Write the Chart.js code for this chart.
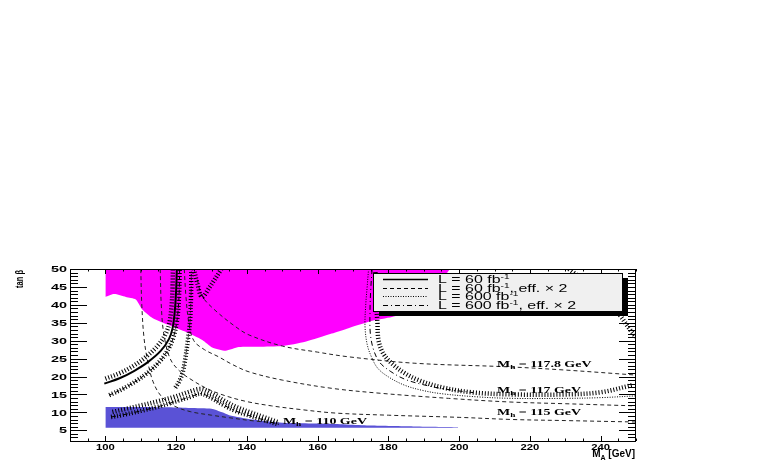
<!DOCTYPE html>
<html>
<head>
<meta charset="utf-8">
<script src="https://cdn.jsdelivr.net/npm/chart.js@4.4.0/dist/chart.umd.min.js"></script>
<style>
  html, body { margin: 0; padding: 0; background: #fff; }
  canvas { display: block; }
</style>
</head>
<body>
<canvas id="plot" width="763" height="463"></canvas>
<script>
// axis ranges and tick labels
const xRange = [90, 250];
const yRange = [2, 50];
const xTickLabels = [100, 120, 140, 160, 180, 200, 220, 240];
const yTickLabels = [5, 10, 15, 20, 25, 30, 35, 40, 45, 50];

// excluded regions (M_A, tan beta)
const magentaEdge = [[100,42.2],[102.5,43],[105.8,42.2],[108.6,41.5],[110.5,38.6],[113.3,36.3],[119,33.9],[122.7,32.5],[127.4,30.2],[130.2,28.1],[134,27.2],[137.7,28.2],[143.4,28.3],[150,28.5],[156.5,29.7],[164,32],[168.7,33.5],[175.2,35.5],[181,36.6],[186,38],[190,41],[194,45.5],[197.4,50]];
const blueTop = [[100,11.5],[110,11.5],[118,11.4],[124,11.2],[130,11],[133,10],[135,9.2],[141.5,8],[150,7.1],[163,6.8],[175,6.3],[187,6.05],[199.7,5.85]];
const blueBottom = 5.7;

// M_h iso-lines
const mh110 = [[110,50],[110.3,40],[110.9,31],[112,24],[113.5,18.5],[115.8,14.5],[119.4,11.8],[124,10.2],[130,9.2],[135,8.5],[142,7.6],[149,7.0]];
const mh115 = [[115.5,50],[115.8,40],[116.5,32],[118.3,25],[121,21.5],[124.5,19],[129,16.5],[134,14.6],[140,13],[147,11.8],[155,10.8],[165,9.8],[180,9.2],[200,8.6],[215,8],[230,7.7],[250,7.3]];
const mh117 = [[122.3,50],[122.8,42],[123.6,35],[125,30],[128,27.5],[132,25.5],[136,23.3],[140.6,21.3],[150,19],[164,16.7],[178,15.3],[197,13.9],[214,12.9],[230,12.4],[250,11.8]];
const mh1178 = [[126,47],[127.3,42.5],[131,38.5],[136.8,33.9],[140.6,31.6],[150,28.5],[160,26.8],[168.7,25.5],[187.5,23.7],[213.8,22.7],[230,21.8],[250,20.4]];
const mhLabels = ['110', '115', '117', '117.8'];
const mhLabelPos = [[150.2,7.7],[210.7,10.2],[210.7,16.3],[210.7,23.5]];

// discovery contours
const lum60 = [[99.7,18],[104,19.5],[108.2,21.6],[112,24],[115.7,27.2],[118,30.5],[119,33.5],[119.6,38],[120,44],[120.2,50]];
const lum60Hatch = [[100,19.4],[104,20.9],[108,23],[111.5,25.5],[114.8,28.6],[117,31.8],[118.1,35],[118.7,39.5],[119,45],[119.1,50]];
const lum60eff = [[101.1,14.8],[105,16.6],[109.1,19],[112.5,21.5],[115.7,24.6],[118,28],[119.4,31.5],[120.3,36],[120.8,42],[121,50]];
const lum600 = [[124.3,50],[124.2,42],[123.9,35],[123.3,30],[122.6,25],[121.8,21],[120.8,18.5],[119.5,16.5]];
const lum600eff = [[102,10.1],[106,11],[110,11.9],[115,13.1],[119.4,14.3],[123,15.5],[127,16.5],[130,15.3],[133.5,13.3],[137,11.5],[141,10],[145,8.6],[149,7.2]];
const lum600effLow = [[101.6,8.7],[106,9.5],[110,10.4],[115,11.6],[120,13.1],[124,14.3],[127,15.2],[130,14],[133.5,12],[137,10.3],[141,9],[145,7.8],[149,6.6]];
const vTop = [[125,50],[126,46],[127.3,42.2],[129.5,45],[132.8,50]];
const arcDotted = [[174.4,50],[174,45],[173.6,40],[173.4,34],[174,29],[175.2,25.5],[177,22.3],[180,19.9],[184.5,17.6],[189.3,16.2],[195,15.2],[205.4,14.3],[215,13.9],[230,13.9],[240,14.1],[250,14.6]];
const arcDashDot = [[175.4,50],[175,44],[174.8,38],[174.9,32],[175.8,27.5],[177.5,24],[180.5,21.5],[184.5,19.3],[189.5,17.8],[196,16.5],[204,15.5]];
const arcHatch = [[176.3,50],[176.5,44],[176.6,40],[176.9,35],[177.2,30.2],[178.5,26.5],[180.9,23.7],[184.5,21],[188.5,19],[195,17],[203.4,15.6],[215,15],[230,15],[240,15.6],[249,17.6]];
const topRight = [[231,50],[237,45.5],[242,41],[245.5,37],[248,33.5],[250,31]];

const legendLabels = ['L = 60 fb', 'L = 60 fb', 'L = 600 fb', 'L = 600 fb'];
const legendDash = [[], [4, 3], [1, 1.5], [5, 3, 1, 3]];

function pts(a) { return a.map(p => ({ x: p[0], y: p[1] })); }
function curve(a, extra) {
    return Object.assign({
        data: pts(a), borderColor: '#000', borderWidth: 1, pointRadius: 0,
        fill: false, tension: 0.35, borderCapStyle: 'butt'
    }, extra);
}
function hatch(a) { return curve(a, { borderWidth: 4.5, borderDash: [1, 2] }); }

// runs of {t, f, dy} drawn one after the other, squeezed like the original raster
function runsWidth(ctx, runs, sx) {
    let w = 0;
    runs.forEach(r => { ctx.font = r.f; w += ctx.measureText(r.t).width * sx; });
    return w;
}
function drawRuns(ctx, runs, x, y, sx) {
    let cx = x;
    runs.forEach(r => {
        ctx.save();
        ctx.font = r.f;
        ctx.translate(cx, y + (r.dy || 0));
        ctx.scale(sx, 1);
        ctx.textAlign = 'left';
        ctx.fillText(r.t, 0, 0);
        cx += ctx.measureText(r.t).width * sx;
        ctx.restore();
    });
}
function drawText(ctx, str, x, y, font, sx, align) {
    const runs = [{ t: str, f: font }];
    const w = runsWidth(ctx, runs, sx);
    const x0 = align === 'right' ? x - w : align === 'center' ? x - w / 2 : x;
    drawRuns(ctx, runs, x0, y, sx);
}

const overlay = {
    id: 'overlay',
    afterDatasetsDraw(chart) {
        const ctx = chart.ctx;
        const a = chart.chartArea;
        const xs = chart.scales.x, ys = chart.scales.y;
        ctx.save();
        ctx.fillStyle = '#000';
        ctx.strokeStyle = '#000';
        ctx.lineWidth = 1;
        ctx.textBaseline = 'alphabetic';

        // y ticks on both sides
        ctx.beginPath();
        for (let v = 3; v <= 50; v++) {
            const py = Math.round(ys.getPixelForValue(v)) + 0.5;
            const len = v % 5 === 0 ? 17 : 8;
            ctx.moveTo(a.left, py); ctx.lineTo(a.left + len, py);
            ctx.moveTo(a.right, py); ctx.lineTo(a.right - len, py);
        }
        // x ticks top and bottom
        for (let v = 90; v <= 250; v += 5) {
            const px = Math.round(xs.getPixelForValue(v)) + 0.5;
            const len = v % 20 === 0 ? 5 : 2.5;
            ctx.moveTo(px, a.bottom); ctx.lineTo(px, a.bottom - len);
            ctx.moveTo(px, a.top); ctx.lineTo(px, a.top + len);
        }
        ctx.stroke();
        ctx.strokeRect(Math.round(a.left) + 0.5, Math.round(a.top) + 0.5, Math.round(a.right - a.left) - 1, Math.round(a.bottom - a.top));

        // tick labels
        const tf = 'bold 9px "Liberation Sans", Arial, sans-serif';
        yTickLabels.forEach(v => {
            drawText(ctx, String(v), a.left - 3, ys.getPixelForValue(v) + 3.2, tf, 1.6, 'right');
        });
        xTickLabels.forEach(v => {
            drawText(ctx, String(v), xs.getPixelForValue(v), a.bottom + 8.5, 'bold 8.5px "Liberation Sans", Arial, sans-serif', 1.33, 'center');
        });

        // axis titles
        ctx.save();
        ctx.translate(23, a.top + 1);
        ctx.rotate(-Math.PI / 2);
        ctx.scale(1, 1.4);
        ctx.font = 'bold 7.5px "Liberation Sans", Arial, sans-serif';
        ctx.textAlign = 'right';
        ctx.fillText('tan \u03B2', 0, 0);
        ctx.restore();
        const tb = 'bold 10px "Liberation Sans", Arial, sans-serif';
        const titleRuns = [{ t: 'M', f: tb }, { t: 'A', f: 'bold 7px "Liberation Sans", Arial, sans-serif', dy: 2.5 }, { t: ' [GeV]', f: tb }];
        drawRuns(ctx, titleRuns, 635 - runsWidth(ctx, titleRuns, 1), 457, 1);

        // M_h labels
        const sf = 'bold 9px "Liberation Serif", "Times New Roman", serif';
        const sfs = 'bold 6px "Liberation Serif", "Times New Roman", serif';
        mhLabels.forEach((t, i) => {
            const px = xs.getPixelForValue(mhLabelPos[i][0]);
            const py = ys.getPixelForValue(mhLabelPos[i][1]) + 3;
            drawRuns(ctx, [{ t: 'M', f: sf }, { t: 'h', f: sfs, dy: 2 }, { t: ' = ' + t + ' GeV', f: sf }], px, py, 1.55);
        });

        // legend box with shadow
        const bx = 373, by = 273, bw = 249, bh = 38;
        ctx.fillStyle = '#000';
        ctx.fillRect(bx + 6, by + 5, bw, bh);
        ctx.fillStyle = '#f0f0f0';
        ctx.fillRect(bx, by, bw, bh);
        ctx.strokeRect(bx + 0.5, by + 0.5, bw, bh);
        const rowY = [279, 287.5, 296, 304.5];
        const lf = '11px "Liberation Sans", Arial, sans-serif';
        const lfs = '7px "Liberation Sans", Arial, sans-serif';
        rowY.forEach((ry, i) => {
            ctx.save();
            ctx.setLineDash(legendDash[i]);
            ctx.lineWidth = i === 0 ? 1.5 : 1;
            ctx.beginPath();
            ctx.moveTo(383, Math.round(ry) + 0.5);
            ctx.lineTo(428, Math.round(ry) + 0.5);
            ctx.stroke();
            ctx.restore();
            ctx.fillStyle = '#000';
            const runs = [{ t: legendLabels[i], f: lf }, { t: '-1', f: lfs, dy: -4 }];
            if (i % 2 === 1) runs.push({ t: ', eff. \u00D7 2', f: lf });
            drawRuns(ctx, runs, 438, ry + 4, 1.45);
        });
        ctx.restore();
    }
};

new Chart(document.getElementById('plot'), {
    type: 'line',
    data: {
        datasets: [
            curve(lum60, { borderWidth: 2 }),
            hatch(lum60Hatch),
            hatch(lum60eff),
            curve(lum60eff, { borderDash: [4, 3] }),
            hatch(lum600),
            curve(lum600, { borderDash: [1, 1.5] }),
            hatch(lum600eff),
            hatch(lum600effLow),
            curve(lum600effLow, { borderDash: [5, 3, 1, 3] }),
            hatch(vTop),
            hatch(arcHatch),
            curve(arcDotted, { borderDash: [1, 1.5] }),
            curve(arcDashDot, { borderDash: [5, 3, 1, 3] }),
            hatch(topRight),
            curve(mh110, { borderDash: [4, 3], borderColor: '#222' }),
            curve(mh115, { borderDash: [4, 3], borderColor: '#222' }),
            curve(mh117, { borderDash: [4, 3], borderColor: '#222' }),
            curve(mh1178, { borderDash: [4, 3], borderColor: '#222' }),
            curve(magentaEdge, { fill: 'end', backgroundColor: '#ff00ff', borderColor: 'rgba(0,0,0,0)', borderWidth: 0, tension: 0.2, order: 10 }),
            curve(blueTop, { fill: { value: blueBottom }, backgroundColor: '#5a52d6', borderColor: 'rgba(0,0,0,0)', borderWidth: 0, tension: 0.2, order: 10 })
        ]
    },
    options: {
        responsive: false,
        animation: false,
        devicePixelRatio: 1,
        layout: { padding: { left: 70, top: 269, right: 127, bottom: 22 } },
        plugins: { legend: { display: false }, tooltip: { enabled: false } },
        scales: {
            x: { type: 'linear', min: xRange[0], max: xRange[1], display: false },
            y: { type: 'linear', min: yRange[0], max: yRange[1], display: false }
        }
    },
    plugins: [overlay]
});
</script>
</body>
</html>
